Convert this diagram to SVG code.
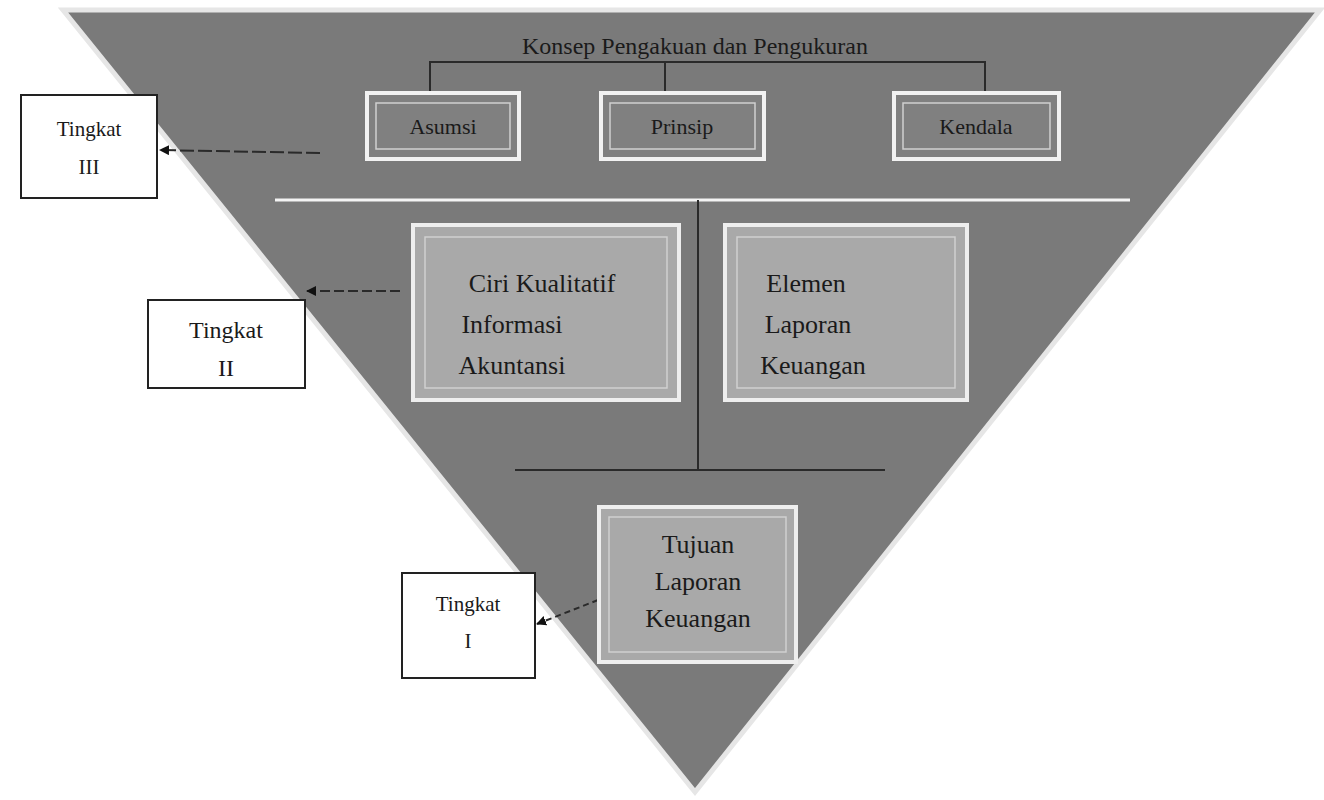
<svg xmlns="http://www.w3.org/2000/svg" width="1324" height="800" viewBox="0 0 1324 800">
<style>
text{font-family:'Liberation Serif','Times New Roman','DejaVu Serif',serif}
.t{fill:#1a1a1a;text-anchor:middle}
.lvl{fill:#fff;stroke:#222;stroke-width:2}
.top{fill:#808080;stroke:#f2f2f2;stroke-width:4}
.mid{fill:#a9a9a9;stroke:#eeeeee;stroke-width:4}
.inner{fill:none;stroke:#d0d0d0;stroke-width:1.5}
.dk{stroke:#2a2a2a;stroke-width:2;fill:none}
.wl{stroke:#f4f4f4;stroke-width:3;fill:none}
</style>
<defs>
<marker id="ah" markerWidth="10" markerHeight="10" refX="9" refY="5" orient="auto" markerUnits="userSpaceOnUse">
<path d="M0,0 L10,5 L0,10 Z" fill="#111"/>
</marker>
</defs>
<rect width="1324" height="800" fill="#fff"/>
<g id="triangle">
<polygon points="63,10 1320,10 695,792" fill="#7a7a7a" stroke="#e6e6e6" stroke-width="5"/>
</g>
<g id="connectors">
<polyline class="dk" points="430,92 430,62 985,62 985,92"/>
<line class="dk" x1="665" y1="62" x2="665" y2="92"/>
<line class="wl" x1="275" y1="200" x2="1130" y2="200"/>
<line class="dk" x1="698" y1="200" x2="698" y2="470"/>
<line class="dk" x1="515" y1="470" x2="885" y2="470"/>
<line class="dk" x1="320" y1="153" x2="160" y2="150" stroke-dasharray="14,4" marker-end="url(#ah)"/>
<line class="dk" x1="400" y1="291" x2="307" y2="291" stroke-dasharray="10,4" marker-end="url(#ah)"/>
<line class="dk" x1="598" y1="600" x2="537" y2="624" stroke-dasharray="6,4" marker-end="url(#ah)"/>
</g>
<g id="title"><text class="t" x="695" y="54" font-size="24" font-family="Liberation Serif, serif">Konsep Pengakuan dan Pengukuran</text></g>
<g id="asumsi"><rect class="top" x="367" y="93" width="152" height="66"/><rect class="inner" x="376" y="103" width="134" height="46"/><text class="t" x="443" y="134" font-size="22">Asumsi</text></g>
<g id="prinsip"><rect class="top" x="601" y="93" width="163" height="66"/><rect class="inner" x="610" y="103" width="145" height="46"/><text class="t" x="682" y="134" font-size="22">Prinsip</text></g>
<g id="kendala"><rect class="top" x="894" y="93" width="165" height="66"/><rect class="inner" x="903" y="103" width="147" height="46"/><text class="t" x="976" y="134" font-size="22">Kendala</text></g>
<g id="ciri"><rect class="mid" x="413" y="225" width="266" height="175"/><rect class="inner" x="425" y="237" width="242" height="151"/>
<text class="t" x="542" y="292" font-size="26">Ciri Kualitatif</text><text class="t" x="512" y="333" font-size="26">Informasi</text><text class="t" x="512" y="374" font-size="26">Akuntansi</text></g>
<g id="elemen"><rect class="mid" x="725" y="225" width="242" height="175"/><rect class="inner" x="737" y="237" width="218" height="151"/>
<text class="t" x="806" y="292" font-size="26">Elemen</text><text class="t" x="808" y="333" font-size="26">Laporan</text><text class="t" x="813" y="374" font-size="26">Keuangan</text></g>
<g id="tujuan"><rect class="mid" x="599" y="507" width="197" height="155"/><rect class="inner" x="609" y="517" width="177" height="135"/>
<text class="t" x="698" y="553" font-size="26">Tujuan</text><text class="t" x="698" y="590" font-size="26">Laporan</text><text class="t" x="698" y="627" font-size="26">Keuangan</text></g>
<g id="tingkat3"><rect class="lvl" x="21" y="95" width="136" height="103"/><text class="t" x="89" y="136" font-size="21">Tingkat</text><text class="t" x="89" y="174" font-size="21">III</text></g>
<g id="tingkat2"><rect class="lvl" x="148" y="300" width="157" height="88"/><text class="t" x="226" y="338" font-size="24">Tingkat</text><text class="t" x="226" y="376" font-size="24">II</text></g>
<g id="tingkat1"><rect class="lvl" x="402" y="573" width="133" height="105"/><text class="t" x="468" y="611" font-size="21">Tingkat</text><text class="t" x="468" y="648" font-size="21">I</text></g>
</svg>
